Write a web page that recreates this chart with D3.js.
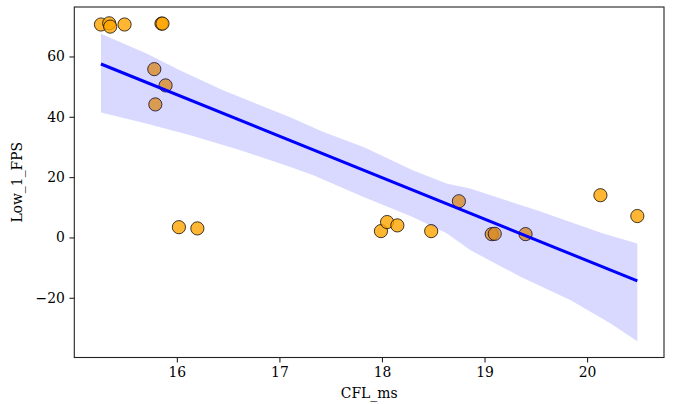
<!DOCTYPE html>
<html>
<head>
<meta charset="utf-8">
<script src="https://cdn.jsdelivr.net/npm/d3@7"></script>
<style>
  body { margin: 0; background: #fff; }
  svg text { font-family: "DejaVu Serif", serif; fill: #000; }
</style>
</head>
<body>
<script>
// scatter + regression fit
var cflMs = [15.26, 15.34, 15.35, 15.49, 15.85, 15.86, 15.78, 15.89, 15.79,
             16.02, 16.20, 17.99, 18.05, 18.15, 18.48, 18.75, 19.07, 19.10,
             19.40, 20.13, 20.49];
var low1Fps = [70.6, 71.0, 69.9, 70.6, 70.9, 70.9, 55.8, 50.4, 44.1,
               3.4, 3.0, 2.1, 5.1, 4.0, 2.1, 12.0, 1.1, 1.2,
               1.1, 14.0, 7.1];

// fitted line end points
var fitX = [15.26, 20.49];
var fitY = [57.5, -14.4];

// confidence band edges
var bandUpX = [15.26, 15.71, 16.03, 16.45, 17.10, 17.43, 17.82, 18.30, 18.63, 18.86, 19.51, 20.15, 20.49];
var bandUpY = [67.5, 60.9, 55.4, 48.8, 39.9, 35.0, 30.0, 22.3, 17.9, 16.2, 9.0, 1.4, -2.0];
var bandLoX = [15.26, 15.71, 16.13, 16.62, 17.10, 17.33, 17.82, 18.30, 18.63, 18.86, 19.35, 19.84, 20.23, 20.49];
var bandLoY = [41.4, 37.7, 33.9, 28.9, 23.4, 20.6, 13.4, 6.8, 1.4, -4.2, -13.0, -20.8, -28.5, -34.4];

var xTicks = [16, 17, 18, 19, 20];
var yTicks = [-20, 0, 20, 40, 60];

var outWidth = 678, outHeight = 404;
var margin = {top: 7, right: 14, bottom: 46.5, left: 74.3},
    width = outWidth - margin.left - margin.right,
    height = outHeight - margin.top - margin.bottom;

var xScale = d3.scaleLinear().domain([15.0, 20.75]).range([0, width]);
var yScale = d3.scaleLinear().domain([-39.8, 76.4]).range([height, 0]);

var svg = d3.select("body").append("svg")
    .attr("width", outWidth)
    .attr("height", outHeight)
  .append("g")
    .attr("transform", "translate(" + margin.left + "," + margin.top + ")");

// points
var pts = cflMs.map(function(d, i) { return {x: d, y: low1Fps[i]}; });
svg.selectAll("circle.pt")
    .data(pts)
  .enter().append("circle")
    .attr("class", "pt")
    .attr("cx", function(d) { return xScale(d.x); })
    .attr("cy", function(d) { return yScale(d.y); })
    .attr("r", 6.6)
    .attr("fill", "orange")
    .attr("fill-opacity", 0.8)
    .attr("stroke", "#000")
    .attr("stroke-opacity", 0.75)
    .attr("stroke-width", 1);

// band (drawn over the points, like seaborn)
var upper = bandUpX.map(function(d, i) { return [d, bandUpY[i]]; });
var lower = bandLoX.map(function(d, i) { return [d, bandLoY[i]]; }).reverse();
var bandPts = upper.concat(lower);
svg.append("path")
    .attr("d", d3.line()
        .x(function(d) { return xScale(d[0]); })
        .y(function(d) { return yScale(d[1]); })(bandPts) + "Z")
    .attr("fill", "blue")
    .attr("fill-opacity", 0.15)
    .attr("stroke", "none");

// regression line
svg.append("path")
    .datum(fitX.map(function(d, i) { return [d, fitY[i]]; }))
    .attr("d", d3.line()
        .x(function(d) { return xScale(d[0]); })
        .y(function(d) { return yScale(d[1]); }))
    .attr("fill", "none")
    .attr("stroke", "blue")
    .attr("stroke-width", 3);

// axes
var xAxis = d3.axisBottom(xScale).tickValues(xTicks).tickSize(4.9).tickPadding(4.5)
    .tickFormat(d3.format("d"));
var yAxis = d3.axisLeft(yScale).tickValues(yTicks).tickSize(4.9).tickPadding(4.5)
    .tickFormat(function(d) { return d < 0 ? "\u2212" + Math.abs(d) : d; });

var gx = svg.append("g")
    .attr("transform", "translate(0," + height + ")")
    .call(xAxis);
var gy = svg.append("g").call(yAxis);
[gx, gy].forEach(function(g) {
  g.select(".domain").remove();
  g.selectAll("line").attr("stroke", "#222").attr("stroke-width", 1.1);
  g.selectAll("text").style("font-size", "13.9px").attr("fill", "#000");
});

// spines
svg.append("rect")
    .attr("width", width)
    .attr("height", height)
    .attr("fill", "none")
    .attr("stroke", "#222")
    .attr("stroke-width", 1.1);

// labels
svg.append("text")
    .attr("x", width / 2)
    .attr("y", height + 40)
    .attr("text-anchor", "middle")
    .style("font-size", "13.9px")
    .text("CFL_ms");

svg.append("text")
    .attr("transform", "rotate(-90)")
    .attr("x", -height / 2)
    .attr("y", -52)
    .attr("text-anchor", "middle")
    .style("font-size", "13.9px")
    .text("Low_1_FPS");
</script>
</body>
</html>
